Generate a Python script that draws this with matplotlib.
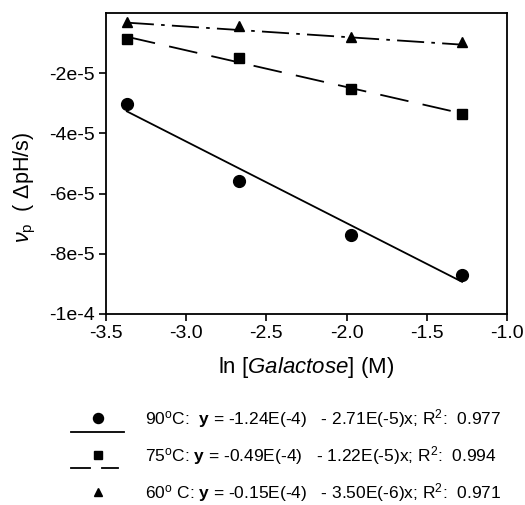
import numpy as np
import matplotlib
matplotlib.use("Agg")
import matplotlib.pyplot as plt

plt.rcParams['font.family'] = ['Liberation Sans', 'DejaVu Sans']
plt.rcParams['mathtext.fontset'] = 'custom'
plt.rcParams['mathtext.rm'] = 'Liberation Sans'
plt.rcParams['mathtext.it'] = 'Liberation Sans:italic'
plt.rcParams['mathtext.bf'] = 'Liberation Sans:bold'

# ln [Galactose] (M)
ln_gal = [-3.37, -2.67, -1.97, -1.28]

# rate vp (dpH/s) for each temperature
v90 = [-3.01e-5, -5.57e-5, -7.37e-5, -8.69e-5]
v75 = [-0.87e-5, -1.51e-5, -2.54e-5, -3.34e-5]
v60 = [-0.29e-5, -0.42e-5, -0.79e-5, -0.97e-5]

# fitted intercept / slope from the legend
fit90 = (-1.24e-4, -2.71e-5)
fit75 = (-0.49e-4, -1.22e-5)
fit60 = (-0.15e-4, -3.50e-6)

yticks = [-1e-4, -8e-5, -6e-5, -4e-5, -2e-5]
ytick_labels = ['-1e-4', '-8e-5', '-6e-5', '-4e-5', '-2e-5']
xticks = [-3.5, -3.0, -2.5, -2.0, -1.5, -1.0]

legend_text = [
    r'90$^{\rm o}$C:  $\mathbf{y}$ = -1.24E(-4)   - 2.71E(-5)x; R$^{2}$:  0.977',
    r'75$^{\rm o}$C: $\mathbf{y}$ = -0.49E(-4)   - 1.22E(-5)x; R$^{2}$:  0.994',
    r'60$^{\rm o}$ C: $\mathbf{y}$ = -0.15E(-4)   - 3.50E(-6)x; R$^{2}$:  0.971',
]

fig = plt.figure(figsize=(5.25, 5.05), dpi=100)
ax = fig.add_axes([106/525, 1-314/505, 401/525, 301/505])

x = np.array(ln_gal)
xl = np.array([x[0], x[-1]])
styles = [
    (v90, fit90, 'o', 8.5, None),
    (v75, fit75, 's', 7, (16, 8)),
    (v60, fit60, '^', 7.5, (15, 4, 2, 4)),
]
for vals, (a, b), mk, ms, dash in styles:
    ln, = ax.plot(xl, a + b*xl, color='black', lw=1.3)
    if dash:
        ln.set_dashes(dash)
    ax.plot(x, vals, mk, color='black', ms=ms, zorder=3)

ax.set_xlim(-3.5, -1.0)
ax.set_ylim(-1e-4, 0)
ax.set_xticks(xticks)
ax.set_xticklabels(['%.1f' % t for t in xticks])
ax.set_yticks(yticks)
ax.set_yticklabels(ytick_labels)
ax.tick_params(direction='out', length=5, width=1.2, labelsize=14, pad=3)
for s in ax.spines.values():
    s.set_linewidth(1.3)
ax.set_xlabel(r'ln [$\mathit{Galactose}$] (M)', fontsize=16, labelpad=9)
ax.set_ylabel(r'$\mathit{\nu}_{\rm p}$  ( $\Delta$pH/s)', fontsize=15.5)
ax.yaxis.set_label_coords(-0.17, 0.42)

# legend drawn in pixel coordinates below the plot
lg = fig.add_axes([0, 0, 1, 1])
lg.set_xlim(0, 525)
lg.set_ylim(505, 0)
lg.axis('off')
rows = [419, 456, 493]
marks = ['o', 's', '^']
msz = [8.5, 7, 7.5]
for i, (yy, mk, t) in enumerate(zip(rows, marks, legend_text)):
    lg.plot([98], [yy - 1], mk, color='black', ms=msz[i] * 0.85)
    if i == 0:
        lg.plot([71, 124], [yy + 13, yy + 13], color='black', lw=1.3)
    elif i == 1:
        lg.plot([71, 90], [yy + 12, yy + 12], color='black', lw=1.3)
        lg.plot([102, 118], [yy + 12, yy + 12], color='black', lw=1.3)
    lg.text(145, yy, t, fontsize=12.5, va='center', ha='left')

fig.savefig('out.png', dpi=100)
